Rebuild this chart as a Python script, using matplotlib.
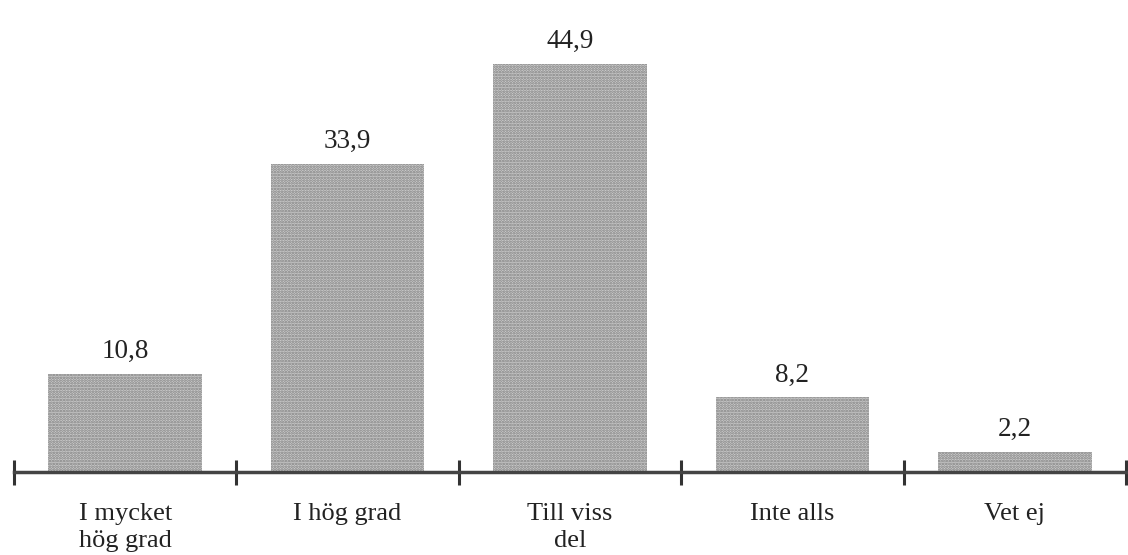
import matplotlib
matplotlib.use("Agg")
import matplotlib.pyplot as plt
import numpy as np

categories = ["I mycket\nhög grad", "I hög grad", "Till viss\ndel", "Inte alls", "Vet ej"]
values = [10.8, 33.9, 44.9, 8.2, 2.2]
value_labels = ["10,8", "33,9", "44,9", "8,2", "2,2"]

plt.rcParams["font.family"] = ["Liberation Serif", "DejaVu Serif"]
plt.rcParams["hatch.linewidth"] = 1.3

fig = plt.figure(figsize=(11.28, 5.55), dpi=100)
ax = fig.add_axes([14 / 1128, 83 / 555, 1112 / 1128, 472 / 555])

x = np.arange(len(categories))
ax.bar(x, values, width=0.69, color="#cccccc", edgecolor="#7f7f7f",
       hatch="......", linewidth=0)

for xi, v, lab in zip(x, values, value_labels):
    ax.annotate(lab, (xi, v), xytext=(0, 16), textcoords="offset points",
                ha="center", va="center", fontsize=19.5, color="#222222")

for xi, cat in zip(x, categories):
    ax.annotate(cat, (xi, 0), xytext=(0, -22), textcoords="offset points",
                ha="center", va="top", fontsize=19, color="#222222",
                linespacing=1.3)

ax.set_xlim(-0.5, 4.5)
ax.set_ylim(0, 51.9)
ax.set_xticks(np.arange(-0.5, 5, 1.0))
ax.set_xticklabels([])
ax.set_yticks([])
ax.tick_params(axis="x", direction="inout", length=18, width=2.2, color="#333333")
for s in ["top", "left", "right"]:
    ax.spines[s].set_visible(False)
ax.spines["bottom"].set_linewidth(2.5)
ax.spines["bottom"].set_color("#444444")
ax.patch.set_alpha(0)

fig.savefig("out.png", dpi=100)
